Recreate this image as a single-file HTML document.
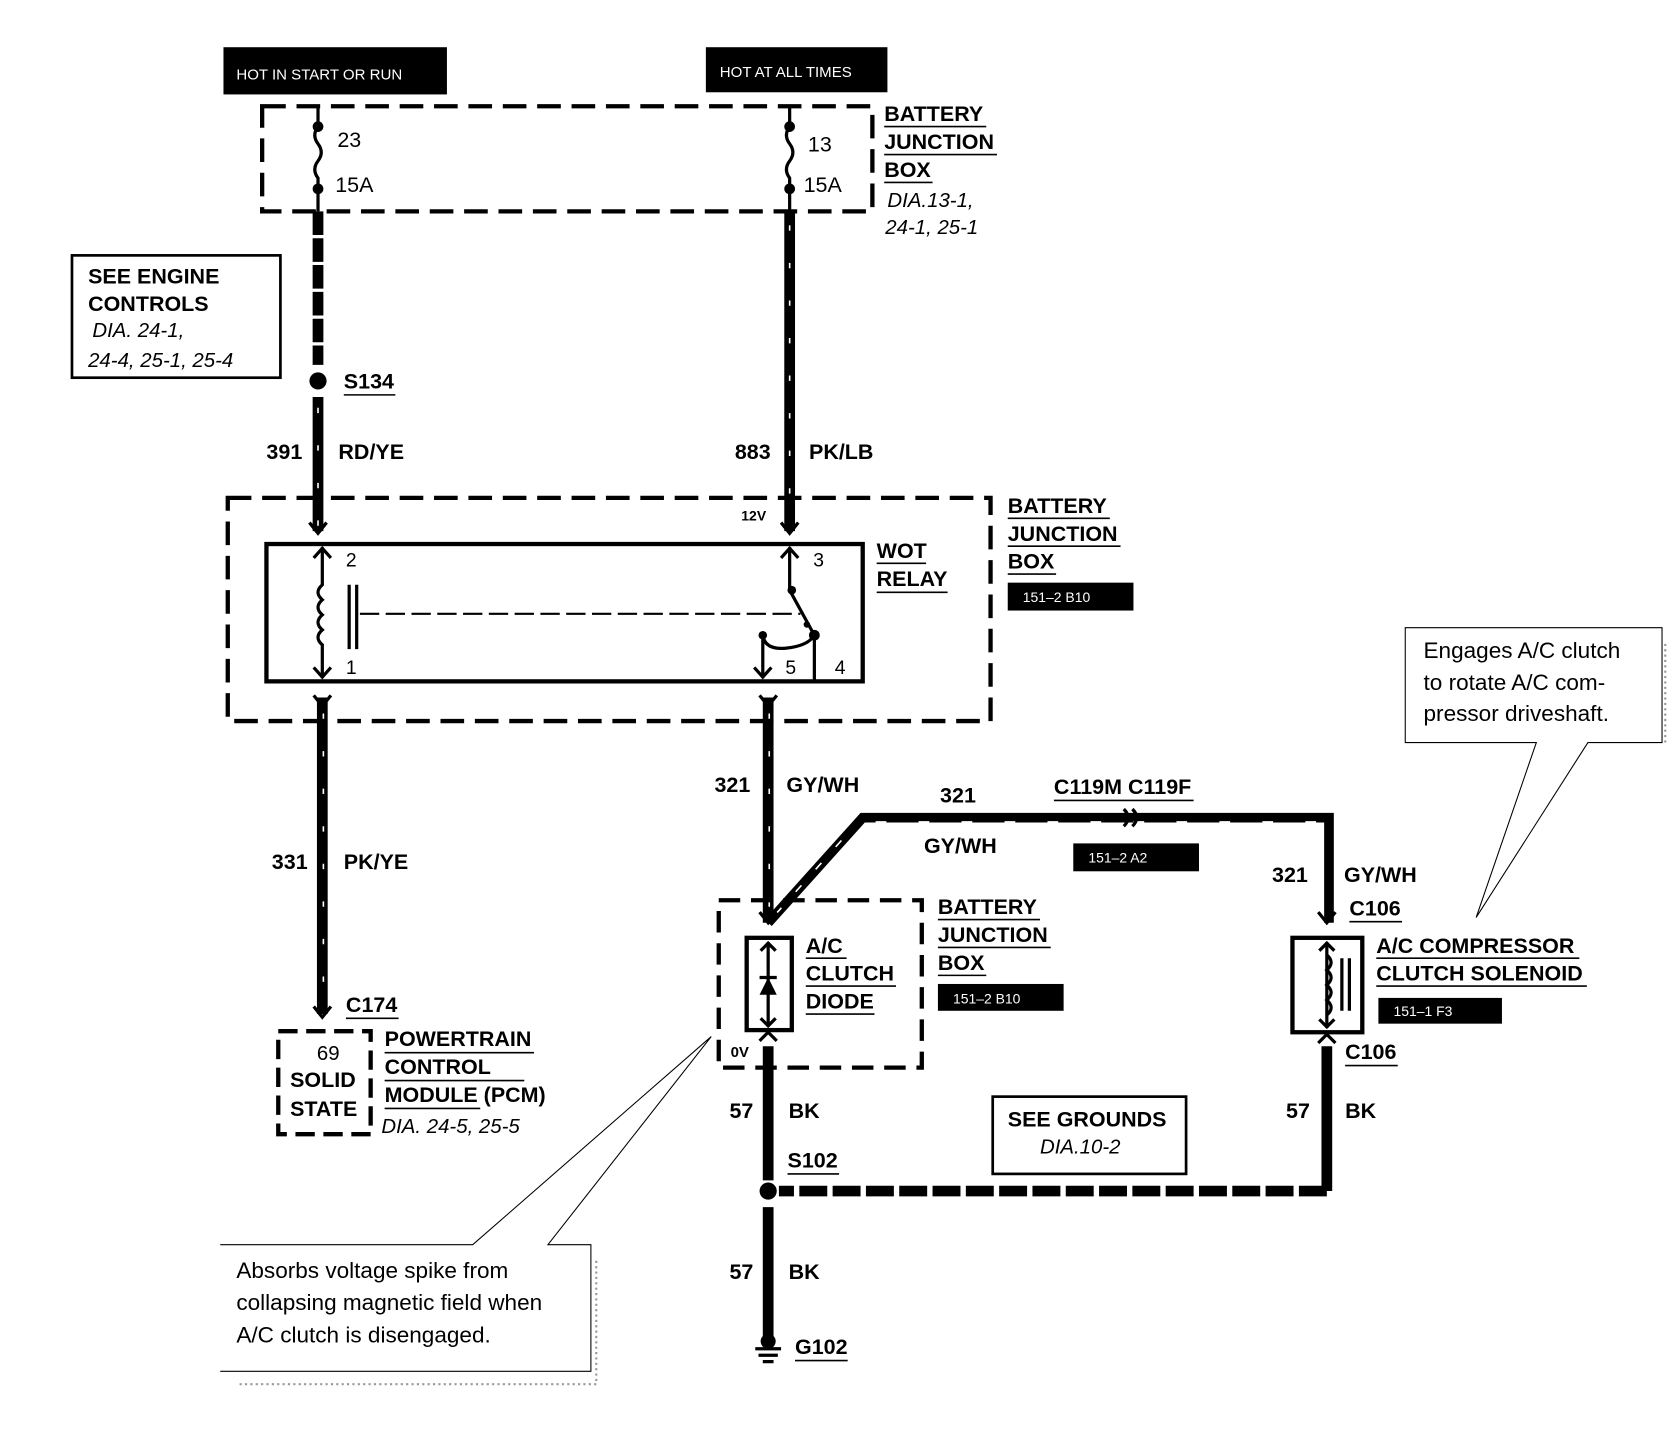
<!DOCTYPE html>
<html><head><meta charset="utf-8"><style>
html,body{margin:0;padding:0;background:#fff;}
svg{display:block}
text{font-family:"Liberation Sans",sans-serif;fill:#000}
.b{font-weight:bold;font-size:20px}
.n{font-size:20px}
.i{font-style:italic;font-size:19px}
.w{fill:#fff;font-size:14px}
.c{font-size:21px}
</style></head><body>
<svg width="1676" height="1440" viewBox="0 0 1560 1342" preserveAspectRatio="none" xmlns="http://www.w3.org/2000/svg">
<rect x="208" y="44" width="208" height="44" fill="#000"/>
<text x="220" y="74" class="w">HOT IN START OR RUN</text>
<rect x="657" y="44" width="169" height="42" fill="#000"/>
<text x="670" y="72" class="w">HOT AT ALL TIMES</text>

<rect x="244" y="99" width="568" height="98" fill="none" stroke="#000" stroke-width="4" stroke-dasharray="22 10"/>
<g stroke="#000" stroke-width="3" fill="none">
<path d="M296 99 V118 M296 118 q-6 8 0 16 q6 8 0 16 q-6 8 0 16 V197"/>
<path d="M735 99 V118 M735 118 q-6 8 0 16 q6 8 0 16 q-6 8 0 16 V197"/>
</g>
<circle cx="296" cy="118" r="5"/><circle cx="296" cy="176" r="5"/>
<circle cx="735" cy="118" r="5"/><circle cx="735" cy="176" r="5"/>
<text x="314" y="137" class="n">23</text><text x="312" y="179" class="n">15A</text>
<text x="752" y="141" class="n">13</text><text x="748" y="179" class="n">15A</text>
<text x="823" y="113" class="b">BATTERY</text><text x="823" y="139" class="b">JUNCTION</text><text x="823" y="165" class="b">BOX</text>
<g stroke="#000" stroke-width="1.5"><path d="M823 118H918M823 144H928M823 170H868"/></g>
<text x="826" y="193" class="i">DIA.13-1,</text><text x="824" y="218" class="i">24-1, 25-1</text>

<rect x="67" y="238" width="194" height="114" fill="none" stroke="#000" stroke-width="2.5"/>
<text x="82" y="264" class="b">SEE ENGINE</text><text x="82" y="290" class="b">CONTROLS</text>
<text x="86" y="314" class="i">DIA. 24-1,</text><text x="82" y="342" class="i">24-4, 25-1, 25-4</text>

<g stroke="#000" stroke-width="10" fill="none">
<path d="M296 197 V340" stroke-dasharray="22 3"/>
<path d="M296 370 V495"/>
<path d="M735 197 V495"/>
<path d="M300 650 V945"/>
<path d="M715 650 V860"/>
<path d="M715 860 L803 762 H1237 V860" stroke-width="9"/>
<path d="M1235 975 V1110"/>
<path d="M1235 1110 H725" stroke-dasharray="26 5"/>
<path d="M715 975 V1100"/>
<path d="M715 1125 V1245"/>
</g>
<g stroke="#fff" stroke-width="1.5" fill="none" stroke-dasharray="5 30">
<path d="M296 380 V490"/>
<path d="M735 210 V490"/>
<path d="M301 665 V940"/>
<path d="M716 665 V855"/>
<path d="M815 766 H1232" stroke-dasharray="10 30"/>
<path d="M722 852 L795 770" stroke-dasharray="8 20"/>
</g>
<circle cx="296" cy="355" r="8"/>
<text x="320" y="362" class="b">S134</text><path d="M320 368H368" stroke="#000" stroke-width="1.5"/>
<text x="248" y="428" class="b">391</text><text x="315" y="428" class="b">RD/YE</text>
<text x="684" y="428" class="b">883</text><text x="753" y="428" class="b">PK/LB</text>

<rect x="212" y="464" width="710" height="208" fill="none" stroke="#000" stroke-width="4" stroke-dasharray="22 10"/>
<text x="690" y="485" style="font-size:13px;font-weight:bold">12V</text>
<rect x="248" y="507" width="555" height="128" fill="none" stroke="#000" stroke-width="4"/>
<g stroke="#000" stroke-width="3" fill="none">
<path d="M288 487 L296 497 L304 487"/>
<path d="M727 487 L735 497 L743 487"/>
<path d="M292 648 L300 658 L308 648 M707 648 L715 658 L723 648"/>
<path d="M300 510 V545 q-8 7 0 14 q-8 7 0 14 q-8 7 0 14 q-8 7 0 14 V632"/>
<path d="M292 520 L300 511 L308 520 M292 622 L300 631 L308 622"/>
<path d="M325 545 V605 M332 545 V605"/>
<path d="M335 572 H745" stroke-dasharray="18 6" stroke-width="2"/>
<path d="M735 510 V550 L758 592 V635"/>
<path d="M727 520 L735 511 L743 520"/>
<path d="M710 592 q2 14 22 12 q20 -2 26 -12"/>
<path d="M710 592 V632 M702 622 L710 631 L718 622"/>
</g>
<circle cx="737" cy="550" r="4"/><circle cx="758" cy="592" r="5"/><circle cx="710" cy="592" r="4"/><circle cx="751" cy="582" r="3"/>
<text x="322" y="528" class="n" style="font-size:18px">2</text><text x="322" y="628" class="n" style="font-size:18px">1</text>
<text x="757" y="528" class="n" style="font-size:18px">3</text><text x="731" y="628" class="n" style="font-size:18px">5</text><text x="777" y="628" class="n" style="font-size:18px">4</text>
<text x="816" y="520" class="b">WOT</text><text x="816" y="546" class="b">RELAY</text>
<path d="M816 525H862M816 552H882" stroke="#000" stroke-width="1.5"/>
<text x="938" y="478" class="b">BATTERY</text><text x="938" y="504" class="b">JUNCTION</text><text x="938" y="530" class="b">BOX</text>
<path d="M938 483H1033M938 509H1043M938 535H983" stroke="#000" stroke-width="1.5"/>
<rect x="938" y="543" width="117" height="26" fill="#000"/><text x="952" y="561" class="w" style="font-size:13px">151–2 B10</text>

<text x="253" y="810" class="b">331</text><text x="320" y="810" class="b">PK/YE</text>
<text x="665" y="738" class="b">321</text><text x="732" y="738" class="b">GY/WH</text>
<text x="875" y="748" class="b">321</text><text x="981" y="740" class="b">C119M C119F</text>
<path d="M981 746H1111" stroke="#000" stroke-width="1.5"/>
<g stroke="#000" stroke-width="3" fill="none"><path d="M1046 754 q8 8 0 16 M1054 754 q8 8 0 16"/></g>
<text x="860" y="795" class="b">GY/WH</text>
<rect x="999" y="786" width="117" height="26" fill="#000"/><text x="1013" y="804" class="w" style="font-size:13px">151–2 A2</text>
<text x="1184" y="822" class="b">321</text><text x="1251" y="822" class="b">GY/WH</text>
<text x="1256" y="853" class="b">C106</text><path d="M1256 859H1305" stroke="#000" stroke-width="1.5"/>

<rect x="669" y="839" width="189" height="156" fill="none" stroke="#000" stroke-width="4" stroke-dasharray="20 10"/>
<g stroke="#000" stroke-width="3" fill="none">
<path d="M707 850 L715 860 L723 850"/>
<path d="M707 970 L715 962 L723 970"/>
<rect x="695" y="874" width="42" height="86" stroke-width="4"/>
<path d="M715 878 V957 M708 886 L715 879 L722 886 M708 949 L715 956 L722 949"/>
<path d="M707 911 H723"/>
<path d="M1227 850 L1235 860 L1243 850 M1227 972 L1235 964 L1243 972"/>
<rect x="1203" y="874" width="65" height="88" stroke-width="4"/>
<path d="M1235 878 V958 M1228 886 L1235 879 L1242 886 M1228 950 L1235 957 L1242 950"/>
<path d="M1235 890 q8 7 0 14 q8 7 0 14 q8 7 0 14 q8 7 0 14"/>
<path d="M1249 893 V942 M1256 893 V942"/>
</g>
<path d="M707 927 L715 911 L723 927 Z" fill="#000"/>
<text x="750" y="888" class="b">A/C</text><text x="750" y="914" class="b">CLUTCH</text><text x="750" y="940" class="b">DIODE</text>
<path d="M750 893H788M750 919H834M750 945H814" stroke="#000" stroke-width="1.5"/>
<text x="680" y="985" style="font-size:14px;font-weight:bold">0V</text>
<text x="873" y="852" class="b">BATTERY</text><text x="873" y="878" class="b">JUNCTION</text><text x="873" y="904" class="b">BOX</text>
<path d="M873 857H968M873 883H978M873 909H918" stroke="#000" stroke-width="1.5"/>
<rect x="873" y="917" width="117" height="25" fill="#000"/><text x="887" y="935" class="w" style="font-size:13px">151–2 B10</text>
<text x="1281" y="888" class="b">A/C COMPRESSOR</text><text x="1281" y="914" class="b">CLUTCH SOLENOID</text>
<path d="M1281 893H1470M1281 919H1477" stroke="#000" stroke-width="1.5"/>
<rect x="1283" y="930" width="115" height="24" fill="#000"/><text x="1297" y="947" class="w" style="font-size:13px">151–1 F3</text>
<text x="1252" y="987" class="b">C106</text><path d="M1252 993H1301" stroke="#000" stroke-width="1.5"/>

<text x="1197" y="1042" class="b">57</text><text x="1252" y="1042" class="b">BK</text>
<text x="679" y="1042" class="b">57</text><text x="734" y="1042" class="b">BK</text>
<text x="733" y="1088" class="b">S102</text><path d="M733 1094H781" stroke="#000" stroke-width="1.5"/>
<circle cx="715" cy="1110" r="8"/>
<text x="679" y="1192" class="b">57</text><text x="734" y="1192" class="b">BK</text>
<g stroke="#000" stroke-width="3"><path d="M715 1240 V1255 M703 1257 H727 M706 1263 H724 M710 1269 H720"/></g>
<circle cx="715" cy="1250" r="7"/>
<text x="740" y="1262" class="b">G102</text><path d="M740 1268H789" stroke="#000" stroke-width="1.5"/>

<rect x="924" y="1022" width="180" height="72" fill="none" stroke="#000" stroke-width="2.5"/>
<text x="938" y="1050" class="b">SEE GROUNDS</text><text x="968" y="1075" class="i">DIA.10-2</text>

<rect x="259" y="961" width="86" height="96" fill="none" stroke="#000" stroke-width="4" stroke-dasharray="18 8"/>
<path d="M292 938 L300 948 L308 938" stroke="#000" stroke-width="3" fill="none"/>
<text x="295" y="988" class="n" style="font-size:19px">69</text>
<text x="270" y="1013" class="b">SOLID</text><text x="270" y="1040" class="b">STATE</text>
<text x="322" y="943" class="b">C174</text><path d="M322 949H371" stroke="#000" stroke-width="1.5"/>
<text x="358" y="975" class="b">POWERTRAIN</text><text x="358" y="1001" class="b">CONTROL</text><text x="358" y="1027" class="b">MODULE (PCM)</text>
<path d="M358 981H497M358 1007H488M358 1033H447" stroke="#000" stroke-width="1.5"/>
<text x="355" y="1056" class="i">DIA. 24-5, 25-5</text>

<g stroke="#000" stroke-width="1" fill="none">
<path d="M205 1160 H440 L662 966 L510 1160 H550 V1278 H205"/>
<path d="M1308 585 H1547 V692 H1478 L1374 855 L1430 692 H1308 Z"/>
</g>
<g stroke="#999" stroke-width="2" fill="none" stroke-dasharray="2 3">
<path d="M555 1175 V1290 H220"/>
<path d="M1550 600 V692"/>
</g>
<text x="220" y="1191" class="c">Absorbs voltage spike from</text>
<text x="220" y="1221" class="c">collapsing magnetic field when</text>
<text x="220" y="1251" class="c">A/C clutch is disengaged.</text>
<text x="1325" y="613" class="c">Engages A/C clutch</text>
<text x="1325" y="643" class="c">to rotate A/C com-</text>
<text x="1325" y="672" class="c">pressor driveshaft.</text>
</svg>
</body></html>
